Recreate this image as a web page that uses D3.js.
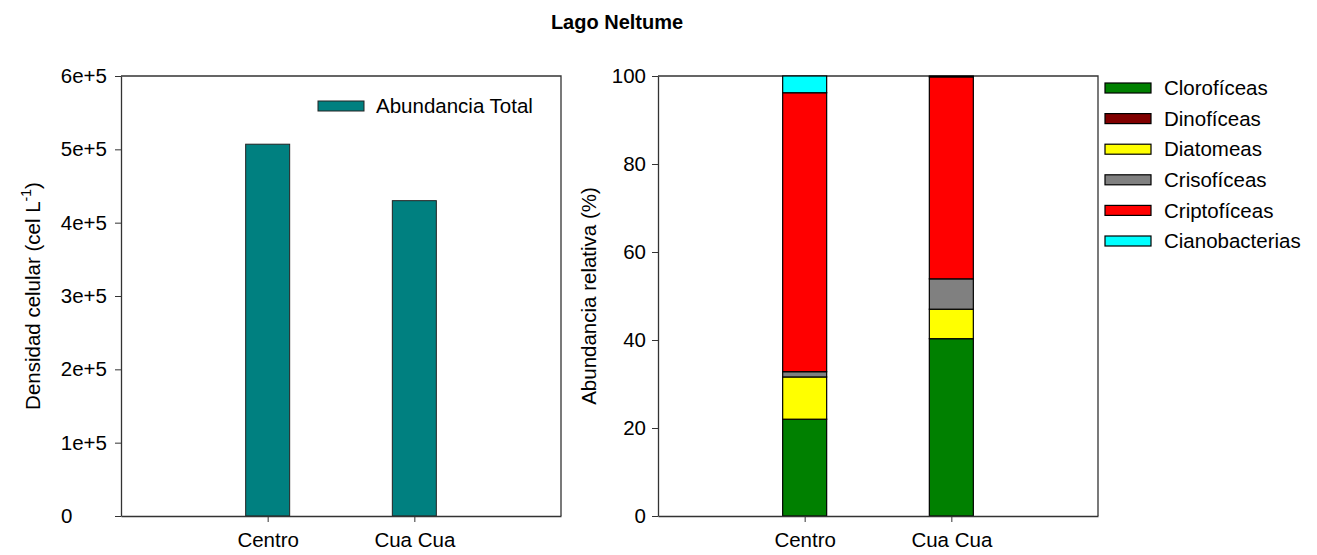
<!DOCTYPE html>
<html><head><meta charset="utf-8">
<script src="https://cdn.jsdelivr.net/npm/d3@7"></script>
<style>
body{margin:0;background:#fff;}
svg{font-family:Arial,"Liberation Sans",sans-serif;}
</style></head>
<body><svg id="c" width="1317" height="555"></svg>
<script>
const sites = ["Centro", "Cua Cua"];
const totalAbundance = [507000, 430000];
const totalTicks = [0, 100000, 200000, 300000, 400000, 500000, 600000];
const totalTickLabels = ["0", "1e+5", "2e+5", "3e+5", "4e+5", "5e+5", "6e+5"];
const groups = ["Clorofíceas", "Dinofíceas", "Diatomeas", "Crisofíceas", "Criptofíceas", "Cianobacterias"];
const groupColors = ["#008000", "#800000", "#ffff00", "#808080", "#ff0000", "#00ffff"];
const centroPct = [22.0, 0, 9.6, 1.2, 63.4, 3.8];
const cuaCuaPct = [40.3, 0, 6.7, 6.9, 45.9, 0.2];
const pctTicks = [0, 20, 40, 60, 80, 100];

const svg = d3.select("#c");
const FS = 20.5;
const axisCol = "#333";

svg.append("text").attr("x", 617).attr("y", 29).attr("text-anchor", "middle")
  .attr("font-weight", "bold").attr("font-size", 20).text("Lago Neltume");

function frame(g, L, R, T, B) {
  g.append("path").attr("d", `M${L},${T}H${R}V${B}`).attr("fill", "none").attr("stroke", axisCol).attr("stroke-width", 1.3);
}

// Left panel
{
  const L = 121, R = 561, T = 76, B = 516;
  const x = d3.scalePoint().domain(sites).range([L, R]).padding(1);
  const y = d3.scaleLinear().domain([0, 600000]).range([B, T]);
  const g = svg.append("g");
  frame(g, L, R, T, B);
  const bw = (R - L) * 0.1;
  g.selectAll("rect.bar").data(sites).join("rect").attr("class", "bar")
    .attr("x", d => x(d) - bw / 2).attr("width", bw)
    .attr("y", (d, i) => y(totalAbundance[i])).attr("height", (d, i) => B - y(totalAbundance[i]))
    .attr("fill", "#008080").attr("stroke", "#222").attr("stroke-width", 1);
  const ya = g.append("g").attr("transform", `translate(${L},0)`)
    .call(d3.axisLeft(y).tickValues(totalTicks).tickFormat((d, i) => totalTickLabels[i]).tickSize(6).tickSizeOuter(0).tickPadding(8));
  const xa = g.append("g").attr("transform", `translate(0,${B})`)
    .call(d3.axisBottom(x).tickSize(6).tickSizeOuter(0).tickPadding(10));
  [ya, xa].forEach(a => {
    a.select(".domain").attr("stroke", axisCol).attr("stroke-width", 1.3);
    a.selectAll(".tick line").attr("stroke", axisCol);
    a.selectAll("text").attr("font-size", FS).attr("font-family", "Arial,'Liberation Sans',sans-serif").attr("fill", "#000");
  });
  ya.selectAll(".tick").filter(d => d === 0).select("text").attr("text-anchor", "start").attr("x", -60);
  // legend
  g.append("rect").attr("x", 318).attr("y", 101).attr("width", 46).attr("height", 10)
    .attr("fill", "#008080").attr("stroke", "#222");
  g.append("text").attr("x", 376).attr("y", 106).attr("dy", "0.35em").attr("font-size", FS).text("Abundancia Total");
  const yl = g.append("text").attr("transform", `translate(40,${(T + B) / 2}) rotate(-90)`)
    .attr("text-anchor", "middle").attr("font-size", FS);
  yl.append("tspan").text("Densidad celular (cel L");
  yl.append("tspan").attr("dy", -9).attr("font-size", 14).text("-1");
  yl.append("tspan").attr("dy", 9).text(")");
}

// Right panel
{
  const L = 658, R = 1098, T = 76, B = 516;
  const x = d3.scalePoint().domain(sites).range([L, R]).padding(1);
  const y = d3.scaleLinear().domain([0, 100]).range([B, T]);
  const g = svg.append("g");
  frame(g, L, R, T, B);
  const bw = (R - L) * 0.1;
  const rows = [centroPct, cuaCuaPct].map((v, i) => {
    const o = { site: sites[i] };
    groups.forEach((k, j) => o[k] = v[j]);
    return o;
  });
  const stack = d3.stack().keys(groups)(rows);
  const color = d3.scaleOrdinal().domain(groups).range(groupColors);
  stack.forEach(layer => {
    g.append("g").selectAll("rect").data(layer.filter(d => d[1] - d[0] > 0)).join("rect")
      .attr("x", d => x(d.data.site) - bw / 2).attr("width", bw)
      .attr("y", d => y(d[1])).attr("height", d => y(d[0]) - y(d[1]))
      .attr("fill", color(layer.key)).attr("stroke", "#000").attr("stroke-width", 1.2);
  });
  const ya = g.append("g").attr("transform", `translate(${L},0)`)
    .call(d3.axisLeft(y).tickValues(pctTicks).tickSize(6).tickSizeOuter(0).tickPadding(6));
  const xa = g.append("g").attr("transform", `translate(0,${B})`)
    .call(d3.axisBottom(x).tickSize(6).tickSizeOuter(0).tickPadding(10));
  [ya, xa].forEach(a => {
    a.select(".domain").attr("stroke", axisCol).attr("stroke-width", 1.3);
    a.selectAll(".tick line").attr("stroke", axisCol);
    a.selectAll("text").attr("font-size", FS).attr("font-family", "Arial,'Liberation Sans',sans-serif").attr("fill", "#000");
  });
  g.append("text").attr("transform", `translate(596,${(T + B) / 2}) rotate(-90)`)
    .attr("text-anchor", "middle").attr("font-size", FS).text("Abundancia relativa (%)");
  const lg = g.append("g").selectAll("g").data(groups).join("g")
    .attr("transform", (d, i) => `translate(1105,${88 + i * 30.6})`);
  lg.append("rect").attr("x", 0).attr("y", -5).attr("width", 46).attr("height", 10)
    .attr("fill", d => color(d)).attr("stroke", "#000").attr("stroke-width", 1.2);
  lg.append("text").attr("x", 59).attr("dy", "0.35em").attr("font-size", FS).text(d => d);
}
</script></body></html>
